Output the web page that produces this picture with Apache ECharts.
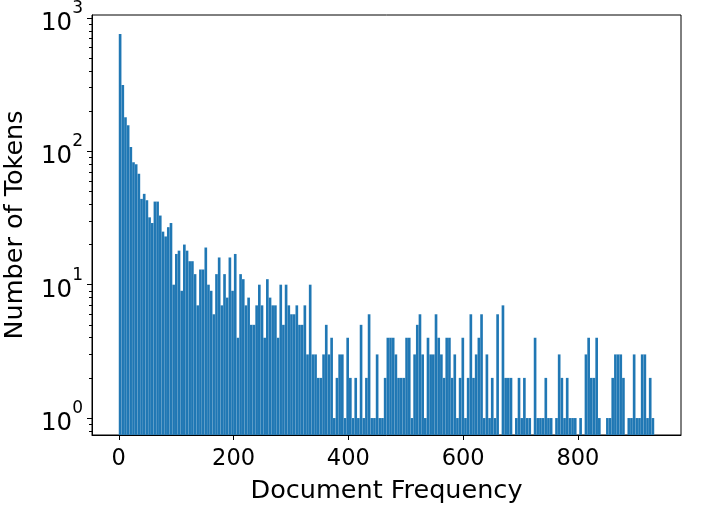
<!DOCTYPE html>
<html>
<head>
<meta charset="utf-8">
<script src="https://cdn.jsdelivr.net/npm/echarts@6/dist/echarts.min.js"></script>
<style>
html,body{margin:0;padding:0;background:#fff;}
#chart{width:706px;height:509px;}
</style>
</head>
<body>
<div id="chart"></div>
<script>
// Histogram: 200 bins of document frequency from 0 to 933
const DF_MIN = 0;
const DF_MAX = 933;
const N_BINS = 200;
const counts = [
  760, 315, 180, 157, 108, 83, 80, 68, 44, 48,
  43, 32, 29, 42, 42, 33, 25, 23, 27, 29,
  10, 17, 18, 9, 20, 18, 15, 15, 12, 7,
  13, 13, 19, 10, 9, 6, 12, 16, 7, 12,
  8, 16, 9, 17, 4, 12, 11, 7, 8, 5,
  5, 7, 10, 7, 4, 11, 8, 7, 7, 4,
  10, 5, 10, 7, 6, 6, 7, 5, 5, 7,
  3, 10, 3, 3, 2, 2, 3, 5, 3, 4,
  1, 2, 3, 3, 1, 4, 2, 1, 2, 1,
  5, 1, 2, 6, 1, 1, 3, 1, 1, 2,
  4, 4, 4, 3, 2, 2, 2, 4, 4, 1,
  3, 5, 6, 3, 1, 4, 3, 3, 6, 4,
  3, 2, 4, 4, 2, 3, 1, 2, 4, 1,
  2, 6, 2, 3, 4, 6, 1, 3, 1, 2,
  1, 6, 0, 7, 2, 2, 2, 0, 1, 2,
  1, 2, 1, 1, 0, 4, 1, 1, 1, 2,
  1, 1, 0, 1, 3, 2, 1, 2, 1, 1,
  1, 0, 1, 0, 3, 4, 2, 2, 4, 1,
  0, 0, 1, 1, 2, 3, 3, 3, 2, 0,
  1, 1, 3, 1, 1, 3, 3, 1, 2, 1
];
const xTicks = [0, 200, 400, 600, 800];
const yTicks = [1, 10, 100, 1000];
const yMinorTicks = [0.8, 0.9, 2, 3, 4, 5, 6, 7, 8, 9, 20, 30, 40, 50, 60, 70, 80, 90, 200, 300, 400, 500, 600, 700, 800, 900];

const X_MIN = -46.65, X_MAX = 979.65;
const Y_MIN = 0.746, Y_MAX = 1053;

const binW = (DF_MAX - DF_MIN) / N_BINS;
const histData = [];
counts.forEach((c, i) => {
  if (c > 0) histData.push([DF_MIN + i * binW, DF_MIN + (i + 1) * binW, c]);
});

const FONT = 'DejaVu Sans';
const chart = echarts.init(document.getElementById('chart'), null, {renderer: 'canvas'});
chart.setOption({
  animation: false,
  backgroundColor: '#fff',
  grid: {left: 92, right: 25, top: 15, bottom: 74, outerBoundsMode: 'none', containLabel: false,
         show: true, borderColor: '#000', borderWidth: 1, backgroundColor: 'transparent'},
  xAxis: {
    type: 'value', min: X_MIN, max: X_MAX,
    name: 'Document Frequency', nameLocation: 'middle', nameGap: 43,
    nameTextStyle: {fontFamily: FONT, fontSize: 25.5, color: '#000'},
    axisLine: {show: true, onZero: false, lineStyle: {color: '#000', width: 1}},
    axisTick: {show: true, inside: false, length: 5, lineStyle: {color: '#000'}, customValues: xTicks},
    axisLabel: {fontFamily: FONT, fontSize: 22.5, color: '#000', margin: 13, customValues: xTicks},
    splitLine: {show: false}
  },
  yAxis: [{
    type: 'log', min: Y_MIN, max: Y_MAX, logBase: 10,
    name: 'Number of Tokens', nameLocation: 'middle', nameGap: 64, nameRotate: 90,
    nameTextStyle: {fontFamily: FONT, fontSize: 25.5, color: '#000'},
    axisLine: {show: true, onZero: false, lineStyle: {color: '#000', width: 1}},
    axisTick: {show: true, length: 5, lineStyle: {color: '#000'}, customValues: yTicks},
    axisLabel: {
      customValues: yTicks, margin: 9, color: '#000',
      formatter: v => '{b|10}{s|' + Math.round(Math.log10(v)) + '}',
      rich: {
        b: {fontFamily: FONT, fontSize: 24.5, color: '#000', lineHeight: 36, verticalAlign: 'bottom'},
        s: {fontFamily: FONT, fontSize: 17, color: '#000', lineHeight: 17, verticalAlign: 'top'}
      }
    },
    splitLine: {show: false}
  }, {
    type: 'log', min: Y_MIN, max: Y_MAX, logBase: 10, position: 'left', offset: 0,
    axisLine: {show: false, onZero: false},
    axisTick: {show: true, length: 3, lineStyle: {color: '#000'}, customValues: yMinorTicks},
    axisLabel: {show: false},
    splitLine: {show: false}
  }],
  series: [{
    type: 'custom',
    xAxisIndex: 0, yAxisIndex: 0,
    encode: {x: [0, 1], y: 2},
    data: histData,
    clip: true,
    renderItem: function (params, api) {
      const x0 = api.value(0), x1 = api.value(1), c = api.value(2);
      const pTop = api.coord([x0, c]);
      const pBot = api.coord([x1, Y_MIN]);
      return {
        type: 'rect',
        shape: {x: pTop[0], y: pTop[1], width: pBot[0] - pTop[0], height: pBot[1] - pTop[1]},
        style: {fill: '#1f77b4', stroke: 'rgba(255,255,255,0.12)', lineWidth: 0.4}
      };
    }
  }]
});
</script>
</body>
</html>
